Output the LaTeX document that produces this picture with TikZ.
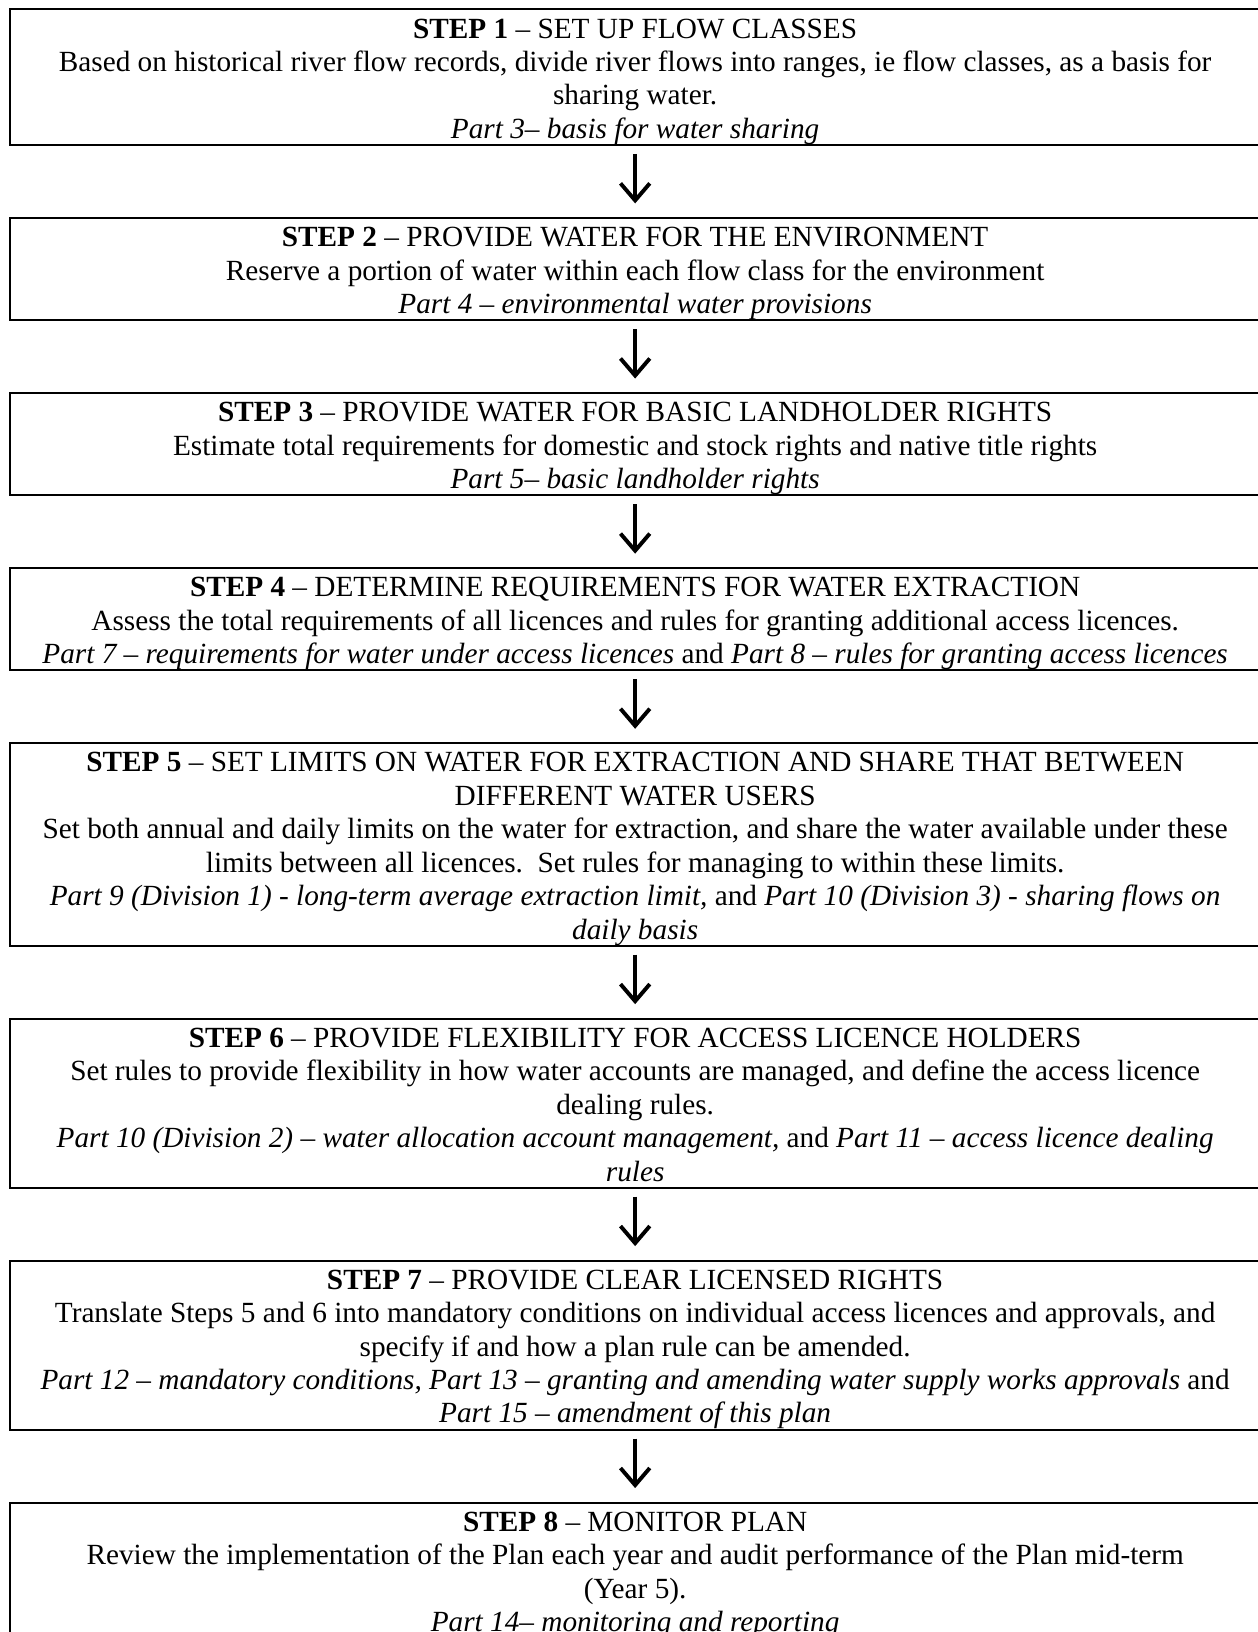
\documentclass[tikz,border=0pt]{standalone}
\usepackage{fontspec}
\setmainfont{Liberation Serif}
\usetikzlibrary{positioning, arrows.meta}
\definecolor{clrborder}{HTML}{000000}
\definecolor{clrtext}{HTML}{000000}
\definecolor{clrfill}{HTML}{FFFFFF}
\newcommand{\topstrut}{\rule{0pt}{11.8pt}}
\newcommand{\botstrut}{\rule[-2.7pt]{0pt}{0pt}}

\begin{document}
\begin{tikzpicture}[
    every node/.style={font=\fontsize{12pt}{13.7pt}\selectfont},
    block/.style={draw=clrborder, fill=clrfill, line width=0.82pt, outer sep=0pt,
                  inner xsep=2pt, inner ysep=0pt, minimum width=512.6pt,
                  align=center, text=clrtext},
    arrow/.style={-{Straight Barb[length=7pt, width=12pt]}, line width=1.6pt, color=clrborder,
                  shorten <=3.7pt, shorten >=5.9pt},
]
\fill[clrfill] (0,0) rectangle (515.4pt,-669.1pt);
\useasboundingbox (0,0) rectangle (515.4pt,-669.1pt);
\node[block, anchor=north west] (n_1) at (4.1pt,-3.8pt) {\topstrut\textbf{STEP 1} – SET UP FLOW CLASSES\\ Based on historical river flow records, divide river flows into ranges, ie flow classes, as a basis for\\ sharing water.\\ \textit{Part 3– basis for water sharing}\botstrut};
\node[block, below=29.9pt of n_1] (n_2) {\topstrut\textbf{STEP 2} – PROVIDE WATER FOR THE ENVIRONMENT\\ Reserve a portion of water within each flow class for the environment\\ \textit{Part 4 – environmental water provisions}\botstrut};
\node[block, below=29.9pt of n_2] (n_3) {\topstrut\textbf{STEP 3} – PROVIDE WATER FOR BASIC LANDHOLDER RIGHTS\\ Estimate total requirements for domestic and stock rights and native title rights\\ \textit{Part 5– basic landholder rights}\botstrut};
\node[block, below=29.9pt of n_3] (n_4) {\topstrut\textbf{STEP 4} – DETERMINE REQUIREMENTS FOR WATER EXTRACTION\\ Assess the total requirements of all licences and rules for granting additional access licences.\\ \textit{Part 7 – requirements for water under access licences} and \textit{Part 8 – rules for granting access licences}\botstrut};
\node[block, below=29.9pt of n_4] (n_5) {\topstrut\textbf{STEP 5} – SET LIMITS ON WATER FOR EXTRACTION AND SHARE THAT BETWEEN\\ DIFFERENT WATER USERS\\ Set both annual and daily limits on the water for extraction, and share the water available under these\\ limits between all licences.\ \ Set rules for managing to within these limits.\\ \textit{Part 9 (Division 1) - long-term average extraction limit,} and \textit{Part 10 (Division 3) - sharing flows on}\\ \textit{daily basis}\botstrut};
\node[block, below=29.9pt of n_5] (n_6) {\topstrut\textbf{STEP 6} – PROVIDE FLEXIBILITY FOR ACCESS LICENCE HOLDERS\\ Set rules to provide flexibility in how water accounts are managed, and define the access licence\\ dealing rules.\\ \textit{Part 10 (Division 2) – water allocation account management,} and \textit{Part 11 – access licence dealing}\\ \textit{rules}\botstrut};
\node[block, below=29.9pt of n_6] (n_7) {\topstrut\textbf{STEP 7} – PROVIDE CLEAR LICENSED RIGHTS\\ Translate Steps 5 and 6 into mandatory conditions on individual access licences and approvals, and\\ specify if and how a plan rule can be amended.\\ \textit{Part 12 – mandatory conditions, Part 13 – granting and amending water supply works approvals} and\\ \textit{Part 15 – amendment of this plan}\botstrut};
\node[block, below=29.9pt of n_7] (n_8) {\topstrut\textbf{STEP 8} – MONITOR PLAN\\ Review the implementation of the Plan each year and audit performance of the Plan mid-term\\ (Year 5).\\ \textit{Part 14– monitoring and reporting}\botstrut};
\draw[arrow] (n_1) -- (n_2);
\draw[arrow] (n_2) -- (n_3);
\draw[arrow] (n_3) -- (n_4);
\draw[arrow] (n_4) -- (n_5);
\draw[arrow] (n_5) -- (n_6);
\draw[arrow] (n_6) -- (n_7);
\draw[arrow] (n_7) -- (n_8);
\end{tikzpicture}
\end{document}
